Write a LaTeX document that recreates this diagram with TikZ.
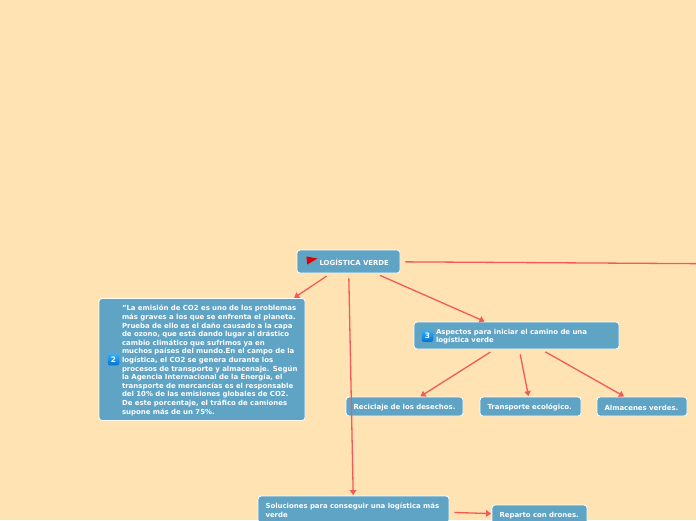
\documentclass[tikz,border=0pt]{standalone}
\usepackage{fontspec}
\setmainfont{DejaVu Sans}
\usetikzlibrary{arrows.meta}
\definecolor{paper}{HTML}{FFE3B3}
\definecolor{boxblue}{HTML}{5FA3C5}
\definecolor{linkred}{HTML}{F25A5A}
\definecolor{badgeblue}{HTML}{0570D0}
\definecolor{badgetop}{HTML}{35B0F5}
\tikzset{
  topic/.style={rectangle,rounded corners=3pt,fill=boxblue,draw=white,line width=0.8pt,
    text=white,font=\fontsize{6.95}{8.6}\selectfont\bfseries,align=left,inner xsep=7.5pt,inner ysep=0pt,
    execute at begin node={\rule{0pt}{7.4pt}}},
  badge/.style={rectangle,rounded corners=1.5pt,top color=badgetop,bottom color=badgeblue,
    text=white,font=\fontsize{7.5}{8}\selectfont\bfseries,minimum size=11.5pt,inner sep=0pt},
  link/.style={draw=linkred,line width=1.3pt,-{Triangle[length=5pt,width=6.5pt]},shorten <=5pt,shorten >=0.5pt},
}
\begin{document}
\begin{tikzpicture}[x=1pt,y=-1pt]
\useasboundingbox (0,0) rectangle (696,520);
\clip (0,0) rectangle (696,520);
\fill[paper] (0,0) rectangle (696,520);
\node[topic,minimum width=103pt,minimum height=23pt,text width=88pt] (root) at (348.5,261.5)
  {\leftskip=15pt \mbox{LOGÍSTICA VERDE}\par};
\node[topic,minimum width=206pt,minimum height=122pt,text width=191pt] (co2) at (202,359.5)
  {\leftskip=15.5pt \mbox{"La emisión de CO2 es uno de los problemas}\\
  \mbox{más graves a los que se enfrenta el planeta.}\\
  \mbox{Prueba de ello es el daño causado a la capa}\\
  \mbox{de ozono, que está dando lugar al drástico}\\
  \mbox{cambio climático que sufrimos ya en}\\
  \mbox{muchos países del mundo.En el campo de la}\\
  \mbox{logística, el CO2 se genera durante los}\\
  \mbox{procesos de transporte y almacenaje. Según}\\
  \mbox{la Agencia Internacional de la Energía, el}\\
  \mbox{transporte de mercancías es el responsable}\\
  \mbox{del 10\% de las emisiones globales de CO2.}\\
  \mbox{De este porcentaje, el tráfico de camiones}\\
  \mbox{supone más de un 75\%.}\par};
\node[topic,minimum width=205pt,minimum height=27pt,text width=190pt] (aspectos) at (516.5,335.5)
  {\leftskip=14.5pt Aspectos para iniciar el camino de una\\ logística verde\par};
\node[topic,minimum width=117pt,minimum height=19pt,text width=102pt] (reciclaje) at (404.5,406.5)
  {\mbox{Reciclaje de los desechos.}};
\node[topic,minimum width=101pt,minimum height=19pt,text width=86pt] (transporte) at (530.5,406.5)
  {\mbox{Transporte ecológico.}};
\node[topic,minimum width=90pt,minimum height=19pt,text width=75pt] (almacenes) at (642,406.5)
  {\mbox{Almacenes verdes.}};
\node[topic,minimum width=191pt,minimum height=27pt,text width=176pt] (soluciones) at (353.5,509.5)
  {Soluciones para conseguir una logística más\\ verde};
\node[topic,minimum width=95pt,minimum height=20pt,text width=80pt] (reparto) at (539.5,515)
  {\mbox{Reparto con drones.}};
\coordinate (offpage) at (1000,265.5);
\node[badge] (two) at (113.5,359.5) {2};
\node[badge] (three) at (427.5,336) {3};
\draw[gray,line width=0.8pt] (306.7,257.5) -- (308,266);
\fill[red!90!black] (306.5,256.5) -- (317.5,258.5) -- (307.3,264.5) -- cycle;
\draw[link] (root) -- (co2);
\draw[link] (root) -- (soluciones);
\draw[link] (root) -- (aspectos);
\draw[draw=linkred,line width=1.3pt,shorten <=5pt] (root) -- (offpage);
\draw[link] (aspectos) -- (reciclaje);
\draw[link] (aspectos) -- (transporte);
\draw[link] (aspectos) -- (almacenes);
\draw[link] (soluciones) -- (reparto);
\end{tikzpicture}
\end{document}
